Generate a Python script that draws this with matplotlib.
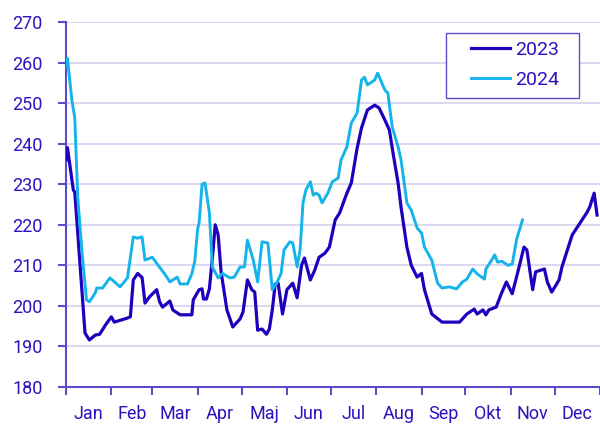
import numpy as np
import matplotlib
matplotlib.use("Agg")
import matplotlib.pyplot as plt
from matplotlib.patches import Rectangle

plt.rcParams['font.family'] = ['Roboto', 'DejaVu Sans']

# day of year / value
day_2023 = [0, 1, 5, 6, 13, 16, 20, 23, 27, 31, 33, 42, 44, 46, 49, 52, 54, 57, 62,
            64, 66, 71, 73, 78, 86, 87, 91, 93, 94, 96, 98, 100, 102, 104, 106, 110,
            114, 119, 121, 124, 127, 129, 131, 134, 137, 139, 141, 143, 145, 148, 151,
            155, 158, 161, 163, 167, 170, 173, 177, 180, 184, 187, 192, 195, 199, 202,
            206, 211, 214, 218, 221, 224, 227, 229, 233, 236, 240, 243, 245, 250, 257,
            263, 269, 274, 279, 281, 285, 287, 289, 294, 298, 301, 305, 310, 313, 315,
            319, 321, 327, 329, 332, 337, 339, 346, 356, 358, 361, 363]
val_2023 = [236, 239, 228.6, 228, 193.3, 191.6, 192.8, 193, 195.3, 197.3, 196, 197,
            197.3, 206.4, 208, 207, 200.7, 202.2, 204, 201, 199.7, 201.2, 199, 197.8,
            197.8, 201.5, 204, 204.2, 201.7, 201.7, 204.2, 211.6, 220, 217.5, 208.4,
            199, 194.8, 196.8, 198.5, 206.4, 204, 203.4, 194, 194.3, 193, 194.3, 199,
            205.4, 205.6, 198, 204, 205.6, 202, 210, 211.8, 206.4, 208.8, 212, 213,
            214.5, 221.2, 222.9, 227.8, 230.3, 238.9, 243.9, 248.3, 249.5, 248.8,
            245.8, 243.4, 236.7, 230.3, 224.4, 214.5, 210, 207.1, 208, 204, 198, 196,
            196, 196, 198, 199.2, 198, 199, 197.8, 199, 199.7, 203.4, 205.9, 203, 210,
            214.5, 213.8, 204, 208.4, 209.1, 205.9, 203.4, 206.4, 209.6, 217.5, 223,
            224.4, 227.8, 222.4]

day_2024 = [0, 1, 4, 6, 8, 11, 14, 16, 20, 21, 25, 30, 37, 42, 46, 49, 52, 54, 59,
            63, 68, 71, 76, 78, 83, 86, 88, 90, 91, 93, 95, 98, 100, 104, 107, 112,
            115, 119, 122, 124, 128, 131, 134, 138, 141, 144, 147, 149, 153, 155, 158,
            160, 162, 164, 167, 169, 171, 173, 175, 179, 182, 186, 188, 192, 195, 199,
            202, 204, 206, 211, 213, 218, 220, 223, 227, 229, 233, 236, 240, 243, 245,
            250, 254, 257, 262, 267, 271, 274, 278, 281, 286, 287, 291, 293, 295, 298,
            302, 305, 308, 312]
val_2024 = [259, 261, 250.8, 246.3, 226.9, 213, 201.5, 201, 203.2, 204.4, 204.4,
            206.9, 204.7, 206.9, 217, 216.7, 217, 211.3, 212, 210, 207.6, 205.9, 207.1,
            205.4, 205.4, 207.9, 211, 219, 220.5, 230, 230.3, 223, 209.6, 206.9, 208,
            206.9, 207.1, 209.6, 209.6, 216.2, 211.3, 205.9, 215.8, 215.5, 204, 205.6,
            208, 213.8, 215.8, 215.5, 209.6, 213.8, 225.4, 228.6, 230.6, 227.3, 227.8,
            227.3, 225.4, 227.8, 230.6, 231.5, 236, 239.2, 245.1, 247.6, 255.7, 256.4,
            254.5, 255.7, 257.4, 253.2, 252.5, 244.1, 239.2, 236, 225.4, 223.6, 219.2,
            218, 214.5, 211.3, 205.6, 204.4, 204.7, 204.2, 205.9, 206.6, 209.1, 207.9,
            206.6, 209.1, 211.3, 212.6, 210.8, 211, 210, 210.3, 216.4, 221.2]

months = ['Jan', 'Feb', 'Mar', 'Apr', 'Maj', 'Jun', 'Jul', 'Aug', 'Sep', 'Okt', 'Nov', 'Dec']
month_days = [31, 28, 31, 30, 31, 30, 31, 31, 30, 31, 30, 31]

dark = '#1E00BE'
light = '#14B4EB'
axis_col = '#5A4CCB'
text_col = '#2A14BE'

fig = plt.figure(figsize=(6, 4.25), dpi=100)
ax = fig.add_axes([0.11, 0.0894, 0.89, 0.8588])

ax.plot(day_2023, val_2023, color=dark, lw=2.3, label='2023', zorder=3)
ax.plot(day_2024, val_2024, color=light, lw=2.1, label='2024', zorder=3)

ax.set_ylim(180, 270)
ax.set_yticks(np.arange(180, 271, 10))
ax.set_xlim(0, 365)

edges = np.concatenate([[0], np.cumsum(month_days)])
mids = (edges[:-1] + edges[1:]) / 2
ax.set_xticks(edges)
ax.set_xticklabels([])
ax.set_xticks(mids, minor=True)
ax.set_xticklabels(months, minor=True)

ax.grid(axis='y', color='#D4D2F0', lw=1.2, zorder=0)
for s in ['top', 'right']:
    ax.spines[s].set_visible(False)
for s in ['left', 'bottom']:
    ax.spines[s].set_color(axis_col)
    ax.spines[s].set_linewidth(1.5)

ax.tick_params(axis='y', colors=axis_col, labelcolor=text_col, labelsize=13,
               length=6, width=1.5, pad=11)
ax.tick_params(axis='x', which='major', colors=axis_col, length=6, width=1.5)
ax.tick_params(axis='x', which='minor', length=0, labelcolor=text_col,
               labelsize=13, pad=13)

# legend box drawn separately so the padding can match
box = Rectangle((0.743, 0.769), 0.222, 0.153, transform=fig.transFigure,
                facecolor='white', edgecolor=axis_col, lw=1.0, zorder=5,
                clip_on=False)
ax.add_patch(box)
leg = ax.legend(loc='upper left', bbox_to_anchor=(0.785, 0.903),
                bbox_transform=fig.transFigure, fontsize=14, frameon=False,
                handlelength=2.0, borderpad=0, labelspacing=0.62,
                handletextpad=0.25, borderaxespad=0)
leg.set_zorder(6)
for t in leg.get_texts():
    t.set_color(text_col)

fig.savefig('out.png', dpi=100)
